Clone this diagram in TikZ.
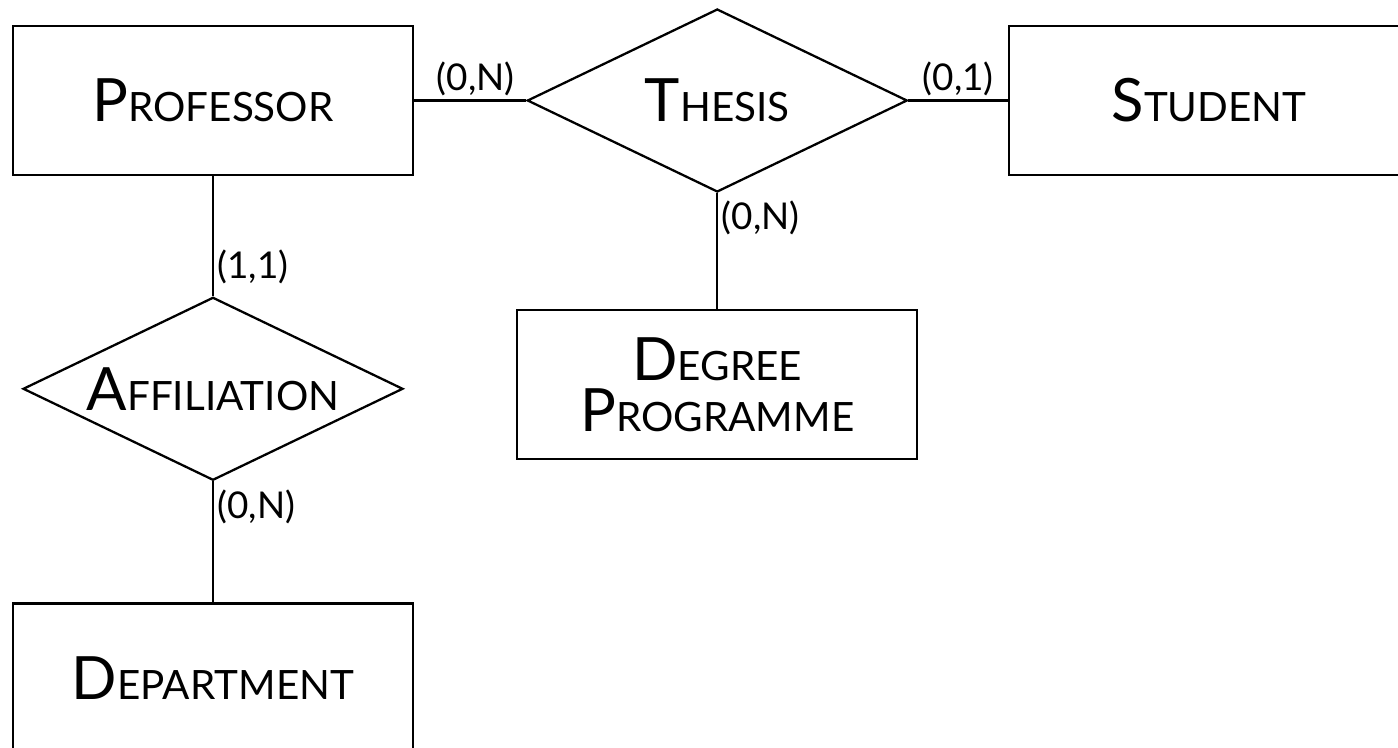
\documentclass[tikz,border=0pt]{standalone}
\usepackage{fontspec}
\setmainfont{Lato}
\usetikzlibrary{shapes.geometric,positioning}
\tikzset{
    entity/.style ={rectangle, draw, minimum width=8cm, minimum height=2.98cm, inner sep=0pt},
    relation/.style ={diamond, draw, aspect=2, minimum width=7.6cm, minimum height=3.66cm, inner sep=0pt},
    card/.style = {inner sep=2pt, font=\fontsize{21}{24}\selectfont}
}
% fake small caps: big first letter, smaller capitals after it
\newcommand{\ername}[2]{{\fontsize{34}{29.5}\selectfont #1}{\fontsize{23}{29.5}\selectfont #2}}

\begin{document}
\begin{tikzpicture}[line width=1.3pt]

    \useasboundingbox (0,0) rectangle (27.96,-14.94);

    \node[entity] (prof) at (4.26,-2.01) {\ername{P}{ROFESSOR}};

    % relations and the other entities set relative to prof
    \node[relation] (thesis) [right = 2.24cm of prof] {\ername{T}{HESIS}};
    \node[entity] (stud) [right = 1.99cm of thesis] {\ername{S}{TUDENT}};
    \node[entity, align=center, font=\fontsize{23}{29.5}\selectfont] (degree) [below = 2.32cm of thesis]
        {\ername{D}{EGREE}\\ \ername{P}{ROGRAMME}};

    \node[relation] (affil) [below = 2.4cm of prof] {\ername{A}{FFILIATION}};
    \node[entity] (dept) [below = 2.42cm of affil] {\ername{D}{EPARTMENT}};

    % connectors with cardinalities
    \draw (prof) -- node[card, pos=0.55, above] {(0,N)} (thesis);
    \draw (thesis) -- node[card, above] {(0,1)} (stud);
    \draw (thesis) -- node[card, pos=0.03, anchor=north west] {(0,N)} (degree);
    \draw (affil) -- node[card, pos=0.06, anchor=south west] {(1,1)} (prof);
    \draw (affil) -- node[card, pos=0.03, anchor=north west] {(0,N)} (dept);

\end{tikzpicture}
\end{document}
